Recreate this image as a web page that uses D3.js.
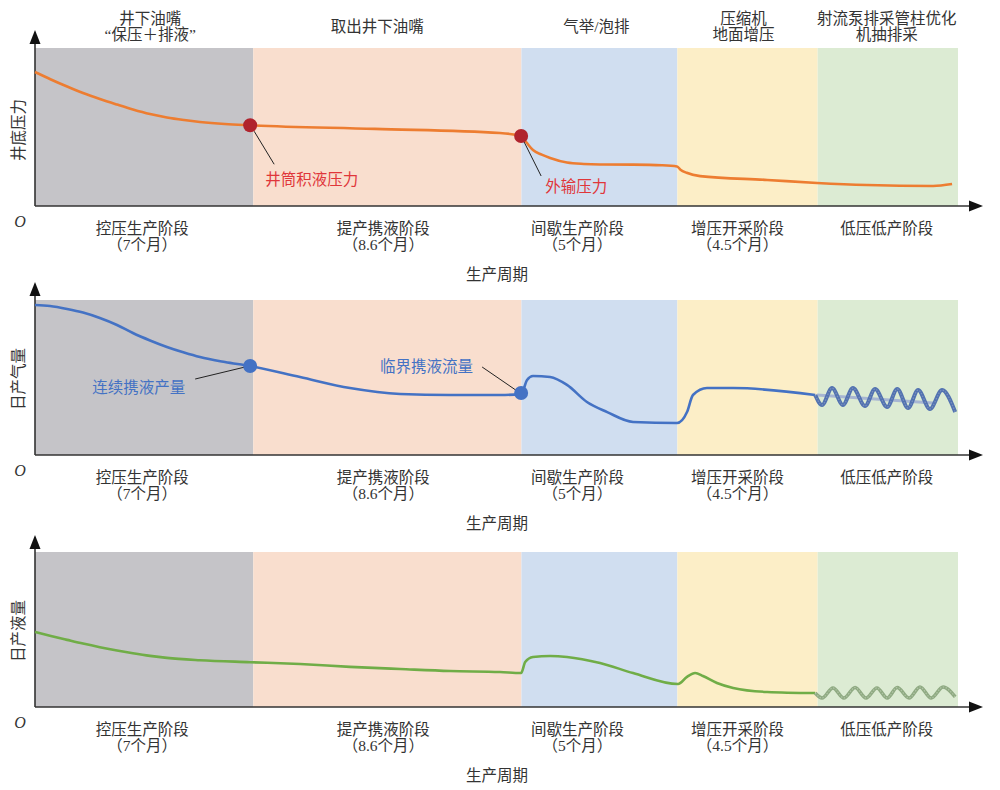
<!DOCTYPE html>
<html><head><meta charset="utf-8">
<script src="https://cdn.jsdelivr.net/npm/d3@7"></script>
<style>
body{margin:0;background:#fff}
text{font-family:"Liberation Serif","Noto Sans CJK SC",serif;}
</style>
</head><body>
<svg id="c" width="1000" height="790"></svg>
<script>
// ---------- DATA ----------
const stageNames = ["控压生产阶段","提产携液阶段","间歇生产阶段","增压开采阶段","低压低产阶段"];
const stageDurations = ["（7个月）","（8.6个月）","（5个月）","（4.5个月）",""];
const stageMonths = [7, 8.6, 5, 4.5, 4.5];
const measureLabels = [["井下油嘴","“保压＋排液”"],["取出井下油嘴"],["气举/泡排"],["压缩机","地面增压"],["射流泵排采管柱优化","机抽排采"]];
const panelTitles = ["井底压力","日产气量","日产液量"];
const xAxisTitle = "生产周期";
const originLabel = "O";

const pressureMonth = [0,0.51,1.03,1.54,2.08,2.63,3.14,3.69,4.23,4.78,5.29,6.09,6.9,10.9,14.91,15.59,15.75,15.97,16.25,16.52,17.06,17.6,18.12,19.18,20.1,20.59,20.7,20.9,21.33,23.48,25.08,26.68,28.8,29.41];
const pressureValue = [84.8,80.1,75.6,71.5,67.7,64.2,61.1,58.2,56.0,54.4,53.2,51.9,51.1,48.8,46.2,44.3,40.5,35.4,32.5,30.4,27.5,26.6,26.3,26.2,25.8,25.0,23.0,21.0,18.9,16.5,14.6,13.3,12.7,13.9];
const pressureMarks = [{month:6.9,value:51.1,label:"井筒积液压力"},{month:15.59,value:44.3,label:"外输压力"}];

const gasMonth = [0,0.48,1.03,1.54,2.08,2.63,3.14,3.69,4.23,4.78,5.29,6.09,6.9,8.5,10.1,11.71,13.31,14.91,15.59,15.78,15.97,16.52,17.06,17.7,18.35,19.18,20.59,20.91,21.1,21.55,22.39,25.02];
const gasValue = [96.8,96.1,94.2,91.9,88.4,83.9,78.7,73.9,69.7,66.1,63.2,60.0,57.4,50.3,43.2,39.4,38.7,38.7,39.3,48.4,51.0,50.3,45.2,34.2,27.7,21.3,20.6,27.7,38.7,43.2,43.2,38.7];
const gasWaveMonth = [25.02,25.24,25.56,25.91,26.23,26.62,26.94,27.33,27.65,28.0,28.32,28.7,29.09,29.51];
const gasWaveValue = [38.7,32.3,43.2,32.3,43.2,31.6,42.6,31.0,42.6,30.3,41.9,29.7,41.9,27.7];
const gasTrendMonth = [25.08,28.8];
const gasTrendValue = [38.7,33.5];
const gasMarks = [{month:6.9,value:57.4,label:"连续携液产量"},{month:15.59,value:40.0,label:"临界携液流量"}];

const liquidMonth = [0,0.51,1.03,1.54,2.08,2.63,3.14,3.69,4.23,5.29,6.9,8.5,10.1,11.71,13.31,14.91,15.59,15.72,15.97,16.52,17.06,18.12,19.18,20.62,20.91,21.17,21.42,21.87,22.39,23.48,25.02];
const liquidValue = [48.4,45.8,43.3,40.9,38.6,36.5,34.7,33.0,31.7,30.2,28.9,27.7,25.9,24.5,23.2,22.6,21.9,29.0,32.3,32.9,32.3,28.4,21.9,14.8,19.4,21.9,20.0,15.5,12.3,9.7,9.0];
const liquidWaveMonth = [25.02,25.24,25.59,25.94,26.3,26.65,27.0,27.33,27.65,28.03,28.38,28.74,29.12,29.51];
const liquidWaveValue = [9.0,5.8,12.3,5.8,12.6,5.8,12.3,5.8,12.6,5.8,12.9,5.8,12.9,6.5];

// ---------- LAYOUT ----------
const svg = d3.select("#c");
const bandColors = ["#C5C4C8","#F9DECE","#D0DEF0","#FCEEC7","#DCEBD3"];
const panels = [{base:206, top:48, tip:30},{base:455, top:300, tip:282},{base:707, top:552, tip:535}];
const labelShift = [-2,-4,-22,-10,-1];
const topShift = [6,-10,-3,-4,-1];
const axisEnd = 983;
const txt = "#333";

const totalMonths = d3.sum(stageMonths);
const x = d3.scaleLinear().domain([0,totalMonths]).range([35,958]);
const cum = [0]; stageMonths.forEach((m,i)=>cum.push(cum[i]+m));

measureLabels.forEach((lines,i)=>{
  const cx = (x(cum[i])+x(cum[i+1]))/2 + topShift[i];
  const ys = lines.length===2 ? [18,34] : [26];
  lines.forEach((l,j)=>{
    svg.append("text").attr("x",cx).attr("y",ys[j]).attr("text-anchor","middle")
      .attr("dominant-baseline","central").attr("font-size",15.5).attr("fill",txt).text(l);
  });
});

function drawPanel(pi, series){
  const p = panels[pi];
  const y = d3.scaleLinear().domain([0,100]).range([p.base,p.top]);
  const g = svg.append("g");
  stageMonths.forEach((m,i)=>{
    g.append("rect").attr("x",x(cum[i])).attr("y",p.top)
      .attr("width",x(cum[i+1])-x(cum[i])).attr("height",p.base-p.top)
      .attr("fill",bandColors[i]);
  });
  g.append("line").attr("x1",x(0)).attr("x2",axisEnd-8).attr("y1",p.base).attr("y2",p.base)
    .attr("stroke","#333").attr("stroke-width",1.6);
  g.append("line").attr("x1",x(0)).attr("x2",x(0)).attr("y1",p.base).attr("y2",p.tip+8)
    .attr("stroke","#333").attr("stroke-width",1.6);
  g.append("path").attr("d",`M${axisEnd},${p.base} L${axisEnd-14},${p.base-5.5} L${axisEnd-14},${p.base+5.5}Z`).attr("fill","#111");
  g.append("path").attr("d",`M${x(0)},${p.tip} L${x(0)-5.5},${p.tip+14} L${x(0)+5.5},${p.tip+14}Z`).attr("fill","#111");
  g.append("text").attr("x",20).attr("y",p.base+15).attr("text-anchor","middle").attr("dominant-baseline","central")
    .attr("font-size",16).attr("font-style","italic").attr("fill",txt).text(originLabel);
  stageNames.forEach((s,i)=>{
    const cx = (x(cum[i])+x(cum[i+1]))/2 + labelShift[i];
    g.append("text").attr("x",cx).attr("y",p.base+22).attr("text-anchor","middle").attr("dominant-baseline","central")
      .attr("font-size",15.5).attr("fill",txt).text(s);
    if(stageDurations[i]) g.append("text").attr("x",cx).attr("y",p.base+38).attr("text-anchor","middle").attr("dominant-baseline","central")
      .attr("font-size",15.5).attr("fill",txt).text(stageDurations[i]);
  });
  g.append("text").attr("x",497).attr("y",p.base+68).attr("text-anchor","middle").attr("dominant-baseline","central")
    .attr("font-size",15.5).attr("fill",txt).text(xAxisTitle);
  g.append("text").attr("transform",`translate(18,${p.base-76}) rotate(-90)`).attr("text-anchor","middle")
    .attr("dominant-baseline","central").attr("font-size",15.5).attr("fill",txt).text(panelTitles[pi]);
  series(g,y);
}

const line = (xs,ys,y,curve)=>d3.line().x(d=>x(d[0])).y(d=>y(d[1])).curve(curve||d3.curveMonotoneX)(xs.map((v,i)=>[v,ys[i]]));

drawPanel(0,(g,y)=>{
  g.append("path").attr("d",line(pressureMonth,pressureValue,y)).attr("fill","none")
    .attr("stroke","#ED7D31").attr("stroke-width",2.6);
  const offs = [{lx1:4,ly1:6,lx2:24,ly2:39,tx:15,ty:54},{lx1:3,ly1:6,lx2:20,ly2:40,tx:24,ty:50}];
  pressureMarks.forEach((m,i)=>{
    const cx=x(m.month), cy=y(m.value), o=offs[i];
    g.append("line").attr("x1",cx+o.lx1).attr("y1",cy+o.ly1).attr("x2",cx+o.lx2).attr("y2",cy+o.ly2)
      .attr("stroke","#222").attr("stroke-width",1);
    g.append("circle").attr("cx",cx).attr("cy",cy).attr("r",7).attr("fill","#B0232D");
    g.append("text").attr("x",cx+o.tx).attr("y",cy+o.ty).attr("dominant-baseline","central")
      .attr("font-size",15.5).attr("fill","#E0363A").text(m.label);
  });
});

drawPanel(1,(g,y)=>{
  g.append("path").attr("d",line(gasMonth,gasValue,y)).attr("fill","none")
    .attr("stroke","#4472C4").attr("stroke-width",2.6);
  g.append("path").attr("d",line(gasTrendMonth,gasTrendValue,y,d3.curveLinear)).attr("fill","none")
    .attr("stroke","#A7B6D2").attr("stroke-width",3);
  g.append("path").attr("d",line(gasWaveMonth,gasWaveValue,y)).attr("fill","none")
    .attr("stroke","#5272B0").attr("stroke-width",4);
  g.append("path").attr("d",line(gasWaveMonth,gasWaveValue,y)).attr("fill","none")
    .attr("stroke","#7B91BE").attr("stroke-width",1.2).attr("stroke-dasharray","1.5 1.5");
  const offs = [{lx1:-1,ly1:0,lx2:-55,ly2:13,tx:-158,ty:21,anchor:"start"},{lx1:-4,ly1:-2,lx2:-39,ly2:-26,tx:-48,ty:-27,anchor:"end"}];
  gasMarks.forEach((m,i)=>{
    const cx=x(m.month), cy=y(m.value), o=offs[i];
    g.append("line").attr("x1",cx+o.lx1).attr("y1",cy+o.ly1).attr("x2",cx+o.lx2).attr("y2",cy+o.ly2)
      .attr("stroke","#222").attr("stroke-width",1);
    g.append("circle").attr("cx",cx).attr("cy",cy).attr("r",7).attr("fill","#4472C4");
    g.append("text").attr("x",cx+o.tx).attr("y",cy+o.ty).attr("dominant-baseline","central").attr("text-anchor",o.anchor)
      .attr("font-size",15.5).attr("fill","#4472C4").text(m.label);
  });
});

drawPanel(2,(g,y)=>{
  g.append("path").attr("d",line(liquidMonth,liquidValue,y)).attr("fill","none")
    .attr("stroke","#70AD47").attr("stroke-width",2.6);
  g.append("path").attr("d",line(liquidWaveMonth,liquidWaveValue,y)).attr("fill","none")
    .attr("stroke","#8FAA82").attr("stroke-width",3.6);
  g.append("path").attr("d",line(liquidWaveMonth,liquidWaveValue,y)).attr("fill","none")
    .attr("stroke","#B0C4A6").attr("stroke-width",1.2).attr("stroke-dasharray","1.5 1.5");
});
</script>
</body></html>
